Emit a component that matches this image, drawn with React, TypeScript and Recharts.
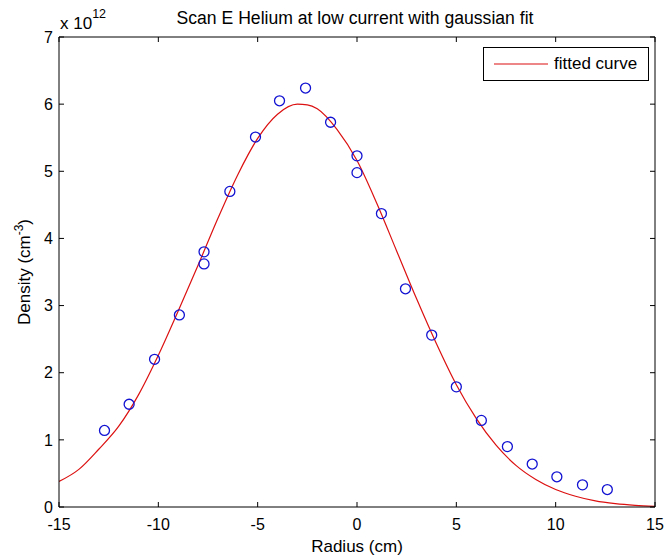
import React from 'react';
import { ComposedChart, Line, Scatter, XAxis, YAxis, Legend, Label } from 'recharts';

// Measured data points (radius in cm, density in units of 1e12 cm^-3)
const radiusCm = [-12.71, -11.47, -10.19, -8.94, -7.7, -7.7, -6.4, -5.11, -3.9, -2.59, -1.33, 0.0, 0.0, 1.23, 2.44, 3.76, 5.0, 6.26, 7.57, 8.82, 10.06, 11.35, 12.6];
const densityE12 = [1.14, 1.53, 2.2, 2.86, 3.8, 3.62, 4.7, 5.51, 6.05, 6.24, 5.73, 5.23, 4.98, 4.37, 3.25, 2.56, 1.79, 1.29, 0.9, 0.64, 0.45, 0.33, 0.26];

// Fitted curve
const curveRadius = [-15, -14, -13, -12, -11, -10, -9, -8, -7, -6, -5, -4, -3, -2.5, -2, -1, 0, 1, 2, 3, 4, 5, 6, 7, 8, 9, 10, 11, 12, 13, 14, 15];
const curveDensity = [0.38, 0.56, 0.86, 1.2, 1.67, 2.26, 2.92, 3.6, 4.3, 4.95, 5.49, 5.85, 6.0, 5.99, 5.93, 5.62, 5.16, 4.52, 3.81, 3.1, 2.43, 1.82, 1.32, 0.92, 0.62, 0.41, 0.26, 0.16, 0.09, 0.05, 0.025, 0.01];

const xTicks = [-15, -10, -5, 0, 5, 10, 15];
const yTicks = [0, 1, 2, 3, 4, 5, 6, 7];

const TITLE = 'Scan E Helium at low current with gaussian fit';
const X_LABEL = 'Radius (cm)';
const LEGEND_LABEL = 'fitted curve';

const scatterData = radiusCm.map((x, i) => ({ x, y: densityE12[i] }));
const curveData = curveRadius.map((x, i) => ({ x, y: curveDensity[i] }));

const FONT = '"Liberation Sans", Arial, Helvetica, sans-serif';
const RED = '#dc1010';
const BLUE = '#1212d2';

const Circle = (p: any) => (
  <circle cx={p.cx} cy={p.cy} r={5} fill="none" stroke={BLUE} strokeWidth={1.3} />
);

const LegendBox = () => (
  <div
    style={{
      width: 164,
      height: 32,
      border: '1px solid #000',
      background: '#fff',
      display: 'flex',
      alignItems: 'center',
      fontFamily: FONT,
      fontSize: 17,
      color: '#000',
    }}
  >
    <svg width={70} height={20} style={{ display: 'block' }}>
      <line x1={10} y1={10} x2={64} y2={10} stroke={RED} strokeWidth={1.2} />
    </svg>
    <span style={{ lineHeight: '20px' }}>{LEGEND_LABEL}</span>
  </div>
);

export default function App() {
  return (
    <div style={{ position: 'absolute', left: 0, top: 0, width: 665, height: 558, background: '#fff' }}>
      <ComposedChart
        width={665}
        height={558}
        margin={{ top: 0, right: 0, bottom: 0, left: 0 }}
        style={{ fontFamily: FONT }}
      >
        <XAxis
          xAxisId="b"
          dataKey="x"
          type="number"
          domain={[-15, 15]}
          ticks={xTicks}
          height={51}
          tickSize={-5}
          tickMargin={17}
          axisLine={{ stroke: '#000', strokeWidth: 1 }}
          tickLine={{ stroke: '#000' }}
          tick={{ fontSize: 16, fill: '#000' }}
          allowDataOverflow
        >
          <Label
            content={() => (
              <text x={357} y={552} textAnchor="middle" fontSize={17} fill="#000" fontFamily={FONT}>
                {X_LABEL}
              </text>
            )}
          />
        </XAxis>
        <XAxis
          xAxisId="t"
          orientation="top"
          dataKey="x"
          type="number"
          domain={[-15, 15]}
          ticks={xTicks}
          height={37}
          tickSize={-5}
          tickFormatter={() => ''}
          axisLine={{ stroke: '#000', strokeWidth: 1 }}
          tickLine={{ stroke: '#000' }}
          allowDataOverflow
        >
          <Label
            content={() => (
              <g>
                <text x={355} y={24} textAnchor="middle" fontSize={17.6} fill="#000" fontFamily={FONT}>
                  {TITLE}
                </text>
                <text x={60} y={29} fontSize={17} fill="#000" fontFamily={FONT}>
                  x 10
                  <tspan dy={-11} fontSize={12.5}>12</tspan>
                </text>
              </g>
            )}
          />
        </XAxis>
        <YAxis
          yAxisId="l"
          type="number"
          domain={[0, 7]}
          ticks={yTicks}
          width={59}
          tickSize={-5}
          tickMargin={11}
          axisLine={{ stroke: '#000', strokeWidth: 1 }}
          tickLine={{ stroke: '#000' }}
          tick={{ fontSize: 16, fill: '#000' }}
          allowDataOverflow
        >
          <Label
            content={() => (
              <text
                transform="translate(30 272) rotate(-90)"
                x={0}
                y={0}
                textAnchor="middle"
                fontSize={17}
                fill="#000"
                fontFamily={FONT}
              >
                Density (cm
                <tspan dy={-7} fontSize={12}>-3</tspan>
                <tspan dy={7}>)</tspan>
              </text>
            )}
          />
        </YAxis>
        <YAxis
          yAxisId="r"
          orientation="right"
          type="number"
          domain={[0, 7]}
          ticks={yTicks}
          width={10}
          tickSize={-5}
          tickFormatter={() => ''}
          axisLine={{ stroke: '#000', strokeWidth: 1 }}
          tickLine={{ stroke: '#000' }}
          allowDataOverflow
        />
        <Legend
          layout="horizontal"
          verticalAlign="middle"
          align="center"
          wrapperStyle={{ position: 'absolute', left: 483, top: 47, width: 166, height: 34 }}
          content={() => <LegendBox />}
        />
        <Line
          xAxisId="b"
          yAxisId="l"
          data={curveData}
          dataKey="y"
          type="monotone"
          stroke={RED}
          strokeWidth={1.2}
          dot={false}
          activeDot={false}
          isAnimationActive={false}
          name={LEGEND_LABEL}
        />
        <Scatter
          xAxisId="b"
          yAxisId="l"
          data={scatterData}
          dataKey="y"
          shape={Circle}
          legendType="none"
          isAnimationActive={false}
        />
      </ComposedChart>
    </div>
  );
}
